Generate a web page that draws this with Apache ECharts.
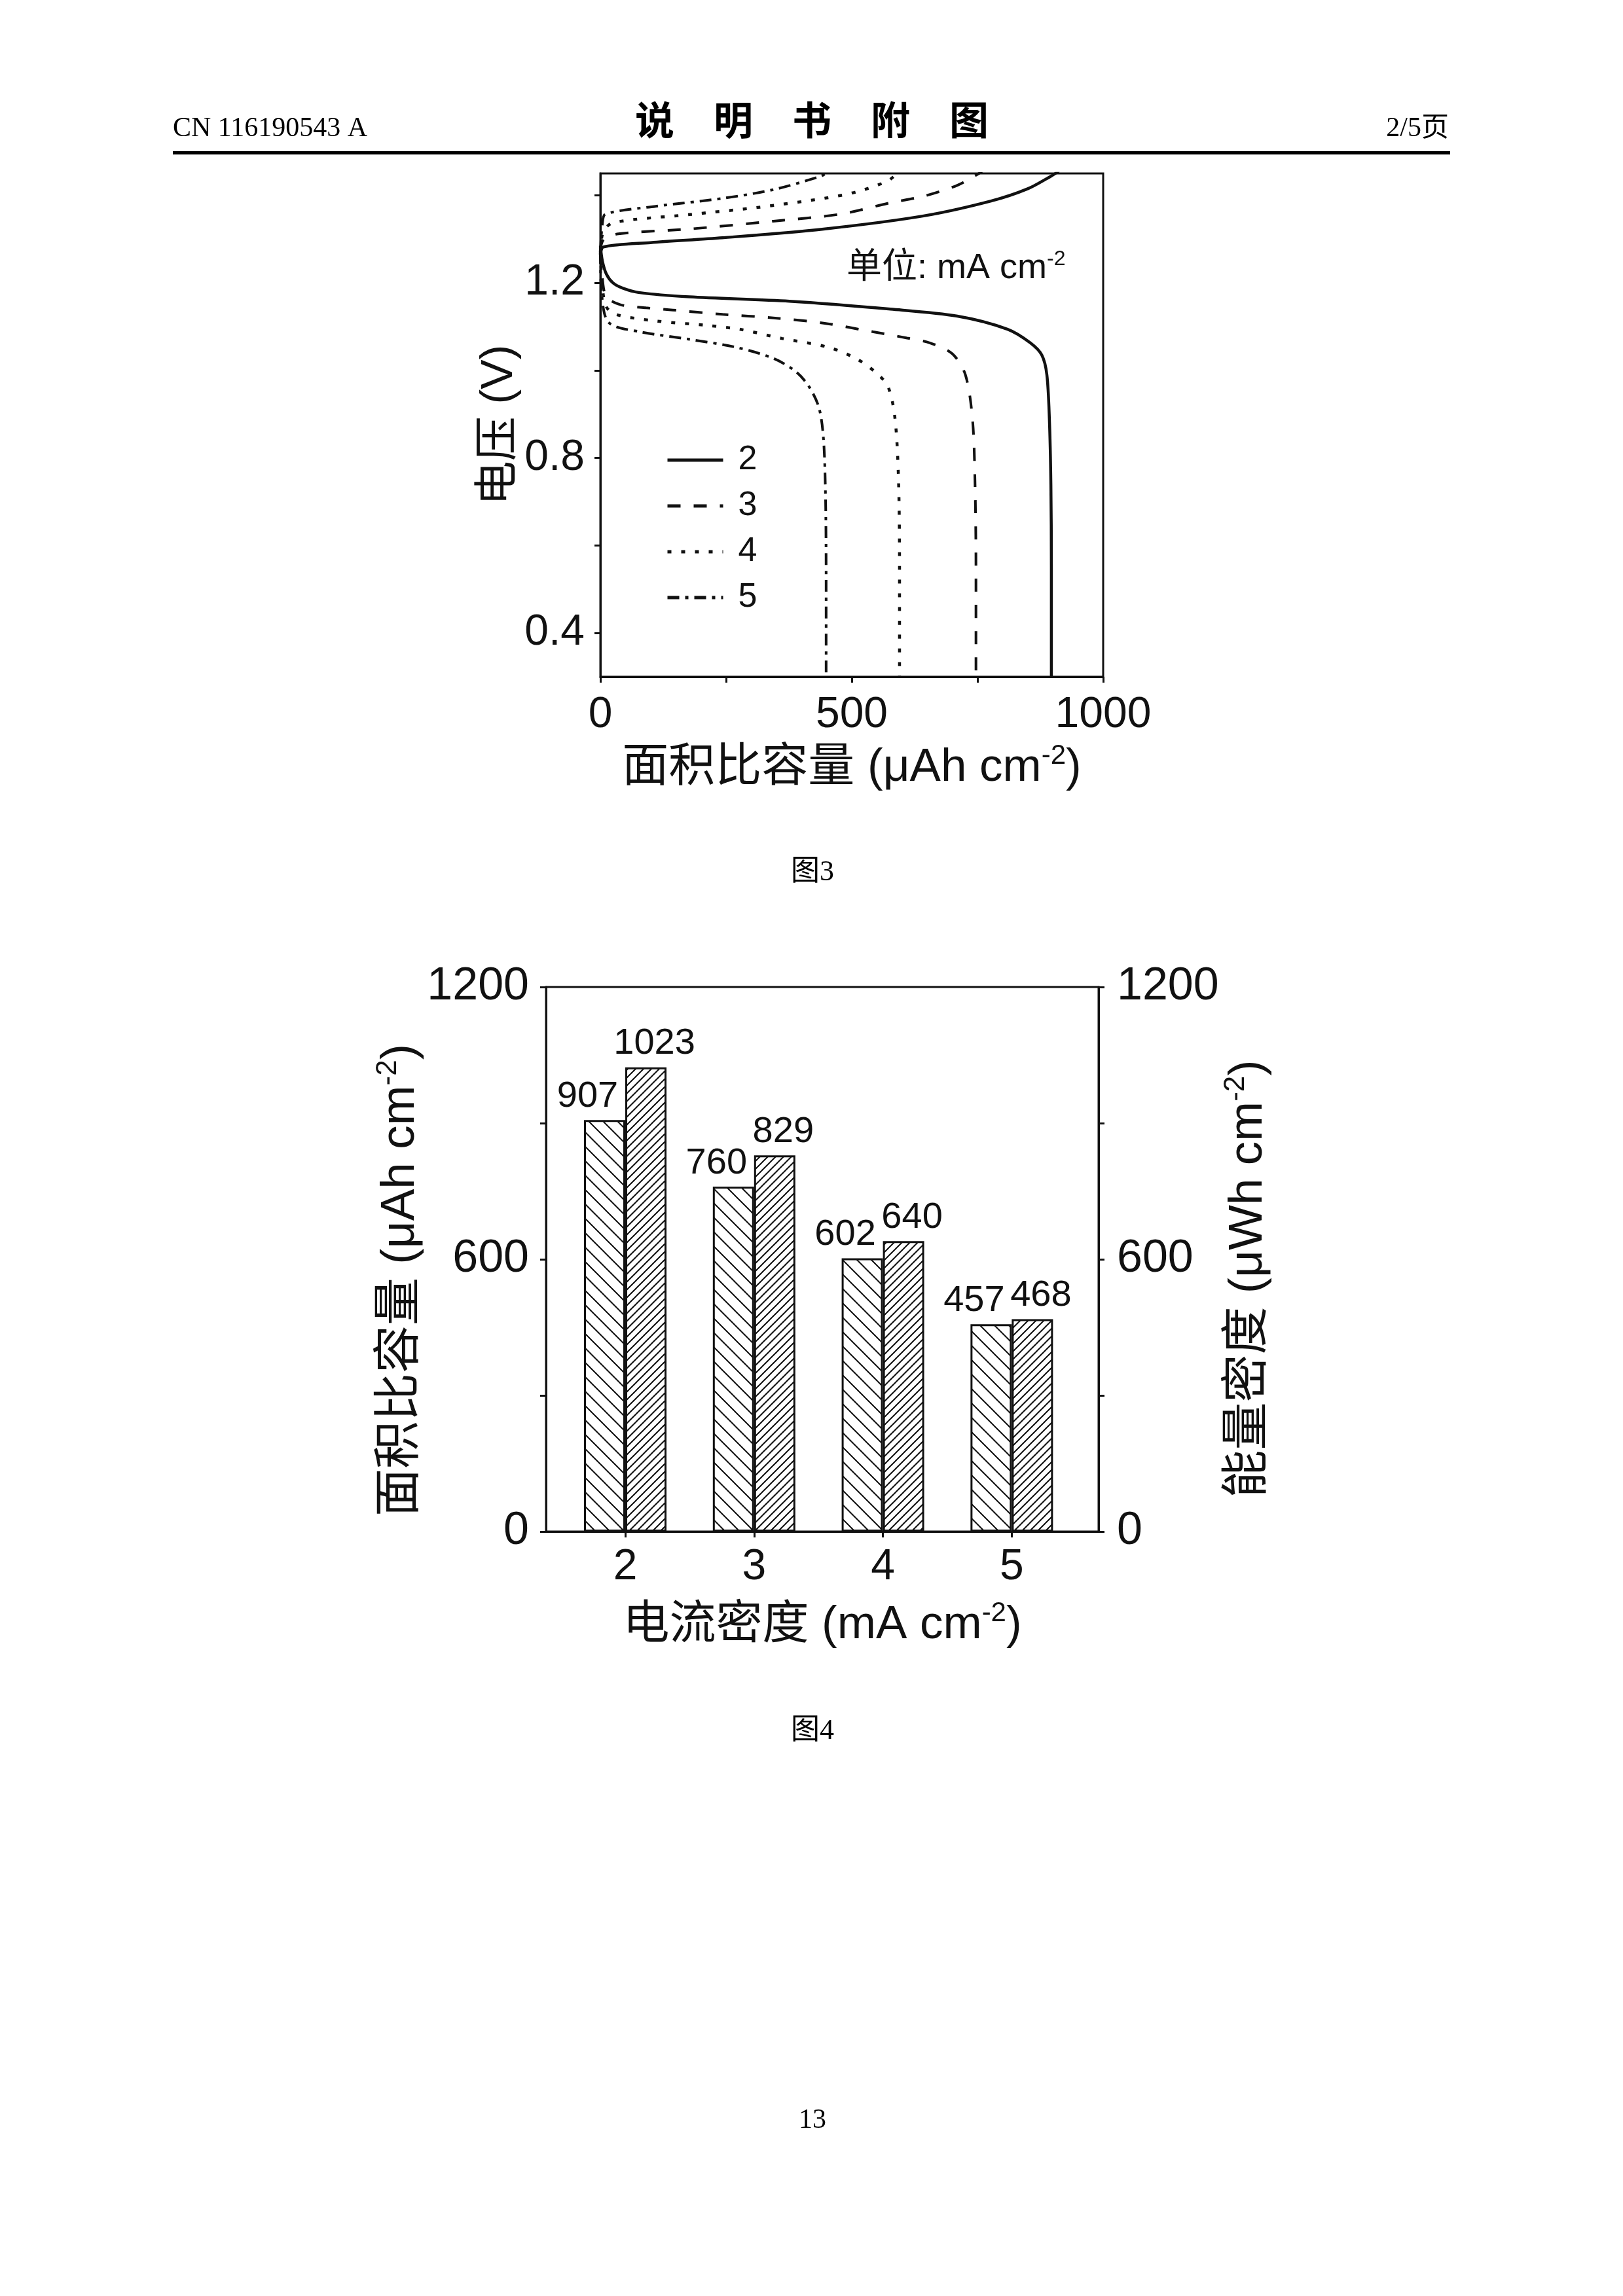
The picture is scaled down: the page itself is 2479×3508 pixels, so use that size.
<!DOCTYPE html>
<html><head><meta charset="utf-8">
<script src="https://cdn.jsdelivr.net/npm/echarts@6/dist/echarts.min.js"></script>
<style>html,body{margin:0;padding:0;background:#fff}#c{width:2479px;height:3508px}</style>
</head><body><div id="c"></div>
<script>
// ---------- Figure 3 data: voltage (V) vs areal capacity (uAh cm-2) ----------
const fig3Series = ['2', '3', '4', '5'];
const discharge2 = [[0,1.285],[4,1.25],[12,1.22],[25,1.2],[44,1.188],[76,1.178],[177,1.168],[376,1.158],[577,1.14],[710,1.124],[810,1.094],[855,1.063],[878,1.035],[888,0.99],[893,0.89],[896,0.74],[897,0.55],[897,0.3]];
const charge2 = [[0,1.265],[6,1.282],[100,1.292],[243,1.303],[444,1.323],[643,1.353],[777,1.387],[850,1.415],[895,1.443],[905,1.45],[912,1.456]];
const discharge3 = [[0,1.27],[4,1.21],[12,1.168],[40,1.15],[91,1.143],[144,1.138],[243,1.128],[344,1.12],[444,1.108],[543,1.088],[610,1.074],[655,1.063],[700,1.038],[726,0.99],[740,0.89],[745,0.75],[747,0.55],[747,0.3]];
const charge3 = [[0,1.27],[6,1.298],[36,1.312],[177,1.323],[344,1.341],[477,1.357],[577,1.383],[643,1.398],[710,1.423],[753,1.45],[760,1.456]];
const discharge4 = [[0,1.27],[4,1.19],[12,1.145],[30,1.128],[110,1.113],[210,1.103],[277,1.094],[361,1.073],[453,1.053],[507,1.028],[545,0.998],[572,0.963],[586,0.89],[593,0.75],[595,0.55],[595,0.3]];
const charge4 = [[0,1.27],[6,1.318],[27,1.338],[177,1.356],[310,1.372],[444,1.393],[510,1.408],[570,1.432],[591,1.45],[598,1.456]];
const discharge5 = [[0,1.27],[3,1.17],[17,1.109],[80,1.088],[177,1.071],[269,1.053],[343,1.028],[388,0.998],[415,0.963],[435,0.914],[444,0.84],[448,0.7],[449,0.5],[449,0.3]];
const charge5 = [[0,1.27],[4,1.335],[10,1.357],[110,1.375],[243,1.393],[344,1.413],[437,1.443],[448,1.45],[455,1.456]];
const fig3XTicks = [0, 250, 500, 750, 1000];
const fig3XLabels = [0, 500, 1000];
const fig3YTicks = [0.4, 0.6, 0.8, 1.0, 1.2, 1.4];
const fig3YLabels = [0.4, 0.8, 1.2];

// ---------- Figure 4 data ----------
const currentDensity = [2, 3, 4, 5];
const arealCapacity = [907, 760, 602, 457];
const energyDensity = [1023, 829, 640, 468];
const fig4YTicks = [0, 300, 600, 900, 1200];
const fig4YLabels = [0, 600, 1200];

// ---------- styles ----------
const INK = '#111';
const SANS = '"Liberation Sans","Noto Sans CJK SC",sans-serif';
const SERIF = '"Liberation Serif","Noto Sans CJK SC",serif';
const plain = v => String(v);

function hatch(size, dir, lw) {
  const c = document.createElement('canvas');
  c.width = size; c.height = size;
  const g = c.getContext('2d');
  g.fillStyle = '#fff'; g.fillRect(0, 0, size, size);
  g.strokeStyle = INK; g.lineWidth = lw;
  g.beginPath();
  if (dir === '\\') {
    g.moveTo(-2, -2); g.lineTo(size + 2, size + 2);
    g.moveTo(-2, size - 2); g.lineTo(2, size + 2);
    g.moveTo(size - 2, -2); g.lineTo(size + 2, 2);
  } else {
    g.moveTo(-2, size + 2); g.lineTo(size + 2, -2);
    g.moveTo(-2, 2); g.lineTo(2, -2);
    g.moveTo(size - 2, size + 2); g.lineTo(size + 2, size - 2);
  }
  g.stroke();
  return c;
}

const dashStyles = {
  '2': 'solid',
  '3': [20, 20],
  '4': [6, 15],
  '5': [18, 9, 5, 9]
};
const lineWidths = { '2': 4.5, '3': 4, '4': 4.5, '5': 4 };
const curves = {
  '2': [discharge2, charge2],
  '3': [discharge3, charge3],
  '4': [discharge4, charge4],
  '5': [discharge5, charge5]
};

const lineSeries = [];
fig3Series.forEach(name => {
  curves[name].forEach(d => {
    lineSeries.push({
      name: name, type: 'line', xAxisIndex: 0, yAxisIndex: 0,
      data: d, showSymbol: false, symbol: 'none', smooth: 0.3,
      lineStyle: { color: INK, width: lineWidths[name], type: dashStyles[name] },
      itemStyle: { color: INK },
      emphasis: { disabled: true }, animation: false
    });
  });
});

const supRich = (fs, pad) => ({ sup: { fontSize: fs, padding: [0, 0, pad, 0], fontFamily: SANS, color: INK } });

const option = {
  animation: false,
  backgroundColor: '#fff',
  textStyle: { fontFamily: SANS, color: INK },
  grid: [
    { left: 917, top: 265, width: 768, height: 769, show: true, borderColor: INK, borderWidth: 3, backgroundColor: 'transparent' },
    { left: 834, top: 1508, width: 844, height: 832, show: true, borderColor: INK, borderWidth: 3, backgroundColor: 'transparent' }
  ],
  legend: {
    data: fig3Series, orient: 'vertical', left: 1012, top: 668,
    itemWidth: 85, itemHeight: 20, itemGap: 10, selectedMode: false,
    itemStyle: { opacity: 0 },
    lineStyle: { width: 5, color: INK },
    textStyle: { fontSize: 52, lineHeight: 60, color: INK, fontFamily: SANS, padding: [0, 0, 0, 18] }
  },
  xAxis: [
    {
      gridIndex: 0, type: 'value', min: 0, max: 1000,
      axisLine: { show: true, onZero: false, lineStyle: { color: INK, width: 3 } },
      axisTick: { show: true, customValues: fig3XTicks, length: 9, lineStyle: { color: INK, width: 3 } },
      axisLabel: { customValues: fig3XLabels, fontSize: 66, margin: 26, color: INK, formatter: plain },
      splitLine: { show: false },
      name: '面积比容量 (μAh cm{sup|-2})', nameLocation: 'middle', nameGap: 100,
      nameTextStyle: { fontSize: 71, color: INK, fontFamily: SANS, rich: supRich(42, 36) }
    },
    {
      gridIndex: 1, type: 'value', min: 1.385, max: 5.674,
      axisLine: { show: true, onZero: false, lineStyle: { color: INK, width: 3 } },
      axisTick: { show: true, customValues: currentDensity, length: 9, lineStyle: { color: INK, width: 3 } },
      axisLabel: { customValues: currentDensity, fontSize: 66, margin: 22, color: INK, formatter: plain },
      splitLine: { show: false },
      name: '电流密度 (mA cm{sup|-2})', nameLocation: 'middle', nameGap: 104,
      nameTextStyle: { fontSize: 71, color: INK, fontFamily: SANS, rich: supRich(42, 36) }
    }
  ],
  yAxis: [
    {
      gridIndex: 0, type: 'value', min: 0.3, max: 1.45,
      axisLine: { show: true, onZero: false, lineStyle: { color: INK, width: 3 } },
      axisTick: { show: true, customValues: fig3YTicks, length: 9, lineStyle: { color: INK, width: 3 } },
      axisLabel: { customValues: fig3YLabels, fontSize: 66, margin: 24, color: INK, formatter: v => v.toFixed(1) },
      splitLine: { show: false },
      name: '电压 (V)', nameLocation: 'middle', nameGap: 120, nameRotate: 90,
      nameTextStyle: { fontSize: 68, color: INK, fontFamily: SANS }
    },
    {
      gridIndex: 1, type: 'value', min: 0, max: 1200, position: 'left',
      axisLine: { show: true, onZero: false, lineStyle: { color: INK, width: 3 } },
      axisTick: { show: true, customValues: fig4YTicks, length: 9, lineStyle: { color: INK, width: 3 } },
      axisLabel: { customValues: fig4YLabels, fontSize: 70, margin: 26, color: INK, formatter: plain },
      splitLine: { show: false },
      name: '面积比容量 (μAh cm{sup|-2})', nameLocation: 'middle', nameGap: 168, nameRotate: 90,
      nameTextStyle: { fontSize: 73, color: INK, fontFamily: SANS, padding: [0, 64, 0, 0], rich: supRich(44, 38) }
    },
    {
      gridIndex: 1, type: 'value', min: 0, max: 1200, position: 'right',
      axisLine: { show: true, onZero: false, lineStyle: { color: INK, width: 3 } },
      axisTick: { show: true, customValues: fig4YTicks, length: 9, lineStyle: { color: INK, width: 3 } },
      axisLabel: { customValues: fig4YLabels, fontSize: 70, margin: 28, color: INK, formatter: plain },
      splitLine: { show: false },
      name: '能量密度 (μWh cm{sup|-2})', nameLocation: 'middle', nameGap: 152, nameRotate: 90,
      nameTextStyle: { fontSize: 73, color: INK, fontFamily: SANS, padding: [0, 60, 0, 0], rich: supRich(44, 38) }
    }
  ],
  series: lineSeries.concat([
    {
      name: 'areal', type: 'bar', xAxisIndex: 1, yAxisIndex: 1,
      data: currentDensity.map((x, i) => [x, arealCapacity[i]]),
      barWidth: 63, barGap: '0%',
      itemStyle: { color: { image: hatch(22, '\\', 2), repeat: 'repeat' }, borderColor: INK, borderWidth: 3 },
      label: { show: true, position: 'top', distance: 8, offset: [-26, 0], fontSize: 56, color: INK, fontFamily: SANS },
      emphasis: { disabled: true }
    },
    {
      name: 'energy', type: 'bar', xAxisIndex: 1, yAxisIndex: 2,
      data: currentDensity.map((x, i) => [x, energyDensity[i]]),
      barWidth: 63, barGap: '0%',
      itemStyle: { color: { image: hatch(12, '/', 2), repeat: 'repeat' }, borderColor: INK, borderWidth: 3 },
      label: { show: true, position: 'top', distance: 8, offset: [13, 0], fontSize: 56, color: INK, fontFamily: SANS },
      emphasis: { disabled: true }
    }
  ]),
  graphic: [
    { type: 'text', x: 264, y: 197, style: { text: 'CN 116190543 A', fontSize: 42, fontFamily: SERIF, fill: '#000', align: 'left', verticalAlign: 'middle' } },
    { type: 'text', x: 1240, y: 183, style: { text: '说　明　书　附　图', fontSize: 60, fontWeight: 'bold', fontFamily: '"Noto Sans CJK SC",sans-serif', fill: '#000', align: 'center', verticalAlign: 'middle' } },
    { type: 'text', x: 2213, y: 197, style: { text: '2/5页', fontSize: 42, fontFamily: SERIF, fill: '#000', align: 'right', verticalAlign: 'middle' } },
    { type: 'line', shape: { x1: 264, y1: 233.5, x2: 2215, y2: 233.5 }, style: { stroke: '#000', lineWidth: 5 } },
    { type: 'text', x: 1293, y: 410, style: { text: '单位: mA cm{sup|-2}', fontSize: 54, fontFamily: SANS, fill: INK, align: 'left', verticalAlign: 'middle', rich: supRich(32, 28) } },
    { type: 'text', x: 1241, y: 1333, style: { text: '图3', fontSize: 44, fontFamily: SERIF, fill: '#000', align: 'center', verticalAlign: 'middle' } },
    { type: 'text', x: 1241, y: 2645, style: { text: '图4', fontSize: 44, fontFamily: SERIF, fill: '#000', align: 'center', verticalAlign: 'middle' } },
    { type: 'text', x: 1241, y: 3240, style: { text: '13', fontSize: 42, fontFamily: SERIF, fill: '#000', align: 'center', verticalAlign: 'middle' } }
  ]
};

const chart = echarts.init(document.getElementById('c'), null, { renderer: 'canvas', width: 2479, height: 3508 });
chart.setOption(option);
</script>
</body></html>
